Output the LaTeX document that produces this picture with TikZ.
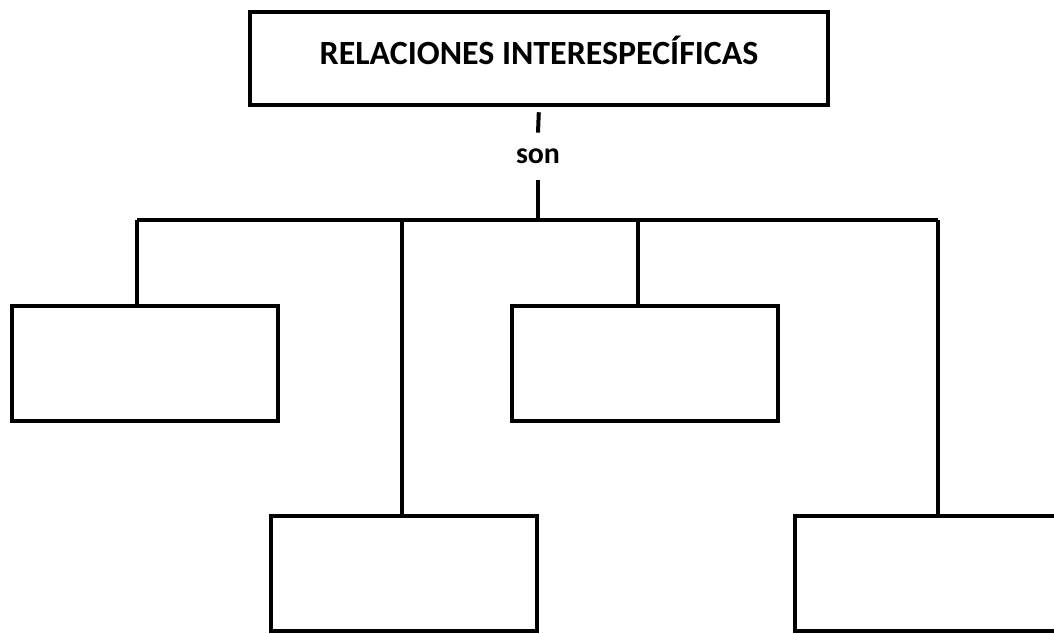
\documentclass[tikz,border=0pt]{standalone}
\usepackage{fontspec}
\setmainfont{Carlito}
\usetikzlibrary{positioning}
\definecolor{ink}{RGB}{0,0,0}
\tikzstyle{bx} = [draw=ink, line width=2.27pt, rectangle, minimum width=5.32cm, minimum height=2.3cm, inner sep=0pt]
\tikzstyle{tb} = [draw=ink, line width=2.27pt, rectangle, minimum width=11.56cm, minimum height=1.86cm, inner sep=0pt]
\tikzstyle{ln} = [ink, line width=2.27pt]
\newcommand{\reltitle}[1]{\fontsize{19.3}{22}\selectfont\bfseries #1}

\begin{document}
\begin{tikzpicture}[x=0.02cm, y=-0.02cm]

	\useasboundingbox (0,0) rectangle (1054,633);
	\clip (0,0) rectangle (1054,633);

	\node [tb] (top) at (539,58.5){};
	\node (title) at (539,50){%
		\reltitle{RELACIONES INTERESPECÍFICAS}
	};
	\node [inner sep=0pt, minimum height=0.94cm] (son) at (538,156.5){%
		\fontsize{17}{19}\selectfont\bfseries son
	};

	\node [bx] (one) at (145,363.5){};
	\node [bx] (two) at (645,363.5){};
	\node [bx] (three) at (404,573.5){};
	\node [bx] (four) at (928,573.5){};

	\coordinate (bar) at (538,220);
	\coordinate (j1) at (137,220);
	\coordinate (j2) at (402,220);
	\coordinate (j3) at (638,220);
	\coordinate (j4) at (938,220);

	\draw [ln, shorten <=3pt] (top.south) -- (son.north);
	\draw [ln] (son.south) -- (bar);
	\draw [ln] (j1) -- (j4);
	\draw [ln] (j1) -- (j1 |- one.north);
	\draw [ln] (j2) -- (j2 |- three.north);
	\draw [ln] (j3) -- (j3 |- two.north);
	\draw [ln] (j4) -- (j4 |- four.north);
\end{tikzpicture}
\end{document}
